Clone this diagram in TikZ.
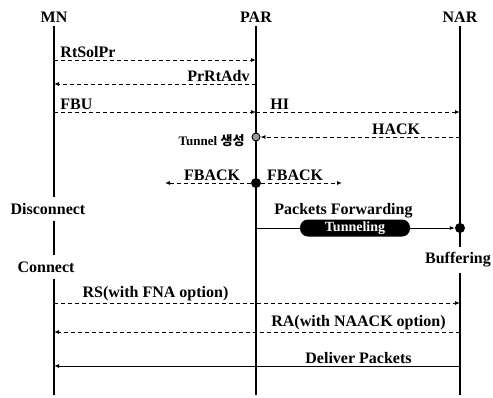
\documentclass[tikz,border=0pt]{standalone}
\usepackage{fontspec}
\setmainfont{Liberation Serif}
\newfontfamily\krfont{Noto Sans CJK KR}
\usetikzlibrary{arrows.meta, positioning}

\begin{document}
\begin{tikzpicture}[x=1pt, y=-1pt,
  head/.style={font=\fontsize{16}{18}\selectfont\bfseries},
  lbl/.style={font=\fontsize{16}{18}\selectfont\bfseries, inner sep=2pt},
  state/.style={font=\fontsize{16}{18}\selectfont\bfseries, inner ysep=6pt},
  life/.style={line width=1.3pt},
  msg/.style={-{Latex[length=5pt,width=4pt]}, line width=0.9pt, dash pattern=on 4pt off 3pt},
  data/.style={-{Latex[length=5pt,width=4pt]}, line width=0.9pt},
  bigdot/.style={circle, fill=black, minimum size=10pt, inner sep=0pt},
  greydot/.style={circle, draw, line width=0.9pt, fill=black!40, minimum size=8pt, inner sep=0pt},
  tunnel/.style={fill=black, text=white, rounded corners=8pt, minimum width=110pt,
    minimum height=17pt, inner sep=0pt, font=\fontsize{14}{16}\selectfont\bfseries}
]
  \useasboundingbox (0,0) rectangle (493,397);

  % lifeline heads
  \node[head] (mn) at (54,17) {MN};
  \node[head] (par) at (256,17) {PAR};
  \node[head] (nar) at (460,17) {NAR};

  % event points on the lifelines
  \foreach \ev/\y in {sol/60, adv/84, fbu/112, hack/137, fback/183, fwd/228, rs/303, ra/332, dlv/366, end/395} {
    \coordinate (mn-\ev) at (54,\y);
    \coordinate (par-\ev) at (256,\y);
    \coordinate (nar-\ev) at (460,\y);
  }
  \coordinate (fb-l) at (165,183);
  \coordinate (fb-r) at (342,183);

  % MN states
  \node[state] (disc) at (48,209) {Disconnect};
  \node[state] (conn) at (46,267) {Connect};
  \node[lbl, inner ysep=5pt] (buf) at (458,260) {Buffering};

  % lifelines
  \draw[life] (mn) -- (mn |- disc.north);
  \draw[life] (mn |- disc.south) -- (mn |- conn.north);
  \draw[life] (mn |- conn.south) -- (mn-end);
  \draw[life] (par) -- (par-end);
  \draw[life] (nar) -- (nar |- buf.north);
  \draw[life] (nar |- buf.south) -- (nar-end);

  % handover signalling
  \draw[msg] (mn-sol) -- (par-sol) node[lbl, pos=0, above right, xshift=4pt] {RtSolPr};
  \draw[msg] (par-adv) -- (mn-adv) node[lbl, pos=0, above left, xshift=-4pt] {PrRtAdv};
  \draw[msg] (mn-fbu) -- (par-fbu) node[lbl, pos=0, above right, xshift=4pt] {FBU};
  \draw[msg] (par-fbu) -- (nar-fbu) node[lbl, pos=0, above right, xshift=12pt] {HI};

  \node[greydot] (tun) at (par-hack) {};
  \node[font=\fontsize{13}{15}\selectfont\bfseries, anchor=east] at ([xshift=-8pt, yshift=-4pt]tun.center) {Tunnel \krfont 생성};
  \draw[msg] (nar-hack) -- node[lbl, pos=0.32, above] {HACK} (tun);

  \node[bigdot] (fb) at (par-fback) {};
  \draw[msg] (fb) -- node[lbl, pos=0.45, above] {FBACK} (fb-l);
  \draw[msg] (fb) -- node[lbl, pos=0.42, above] {FBACK} (fb-r);

  % forwarding through the tunnel
  \node[bigdot] (bufdot) at (nar-fwd) {};
  \draw[data] (par-fwd) -- node[lbl, pos=0.44, above, yshift=8pt] {Packets Forwarding} (bufdot);
  \node[tunnel] (tnl) at (355,228) {Tunneling};

  % after reconnection
  \draw[msg] (mn-rs) -- node[lbl, pos=0.25, above] {RS(with FNA option)} (nar-rs);
  \draw[msg] (nar-ra) -- node[lbl, pos=0.25, above] {RA(with NAACK option)} (mn-ra);
  \draw[data] (nar-dlv) -- node[lbl, pos=0.25, above] {Deliver Packets} (mn-dlv);
\end{tikzpicture}
\end{document}
